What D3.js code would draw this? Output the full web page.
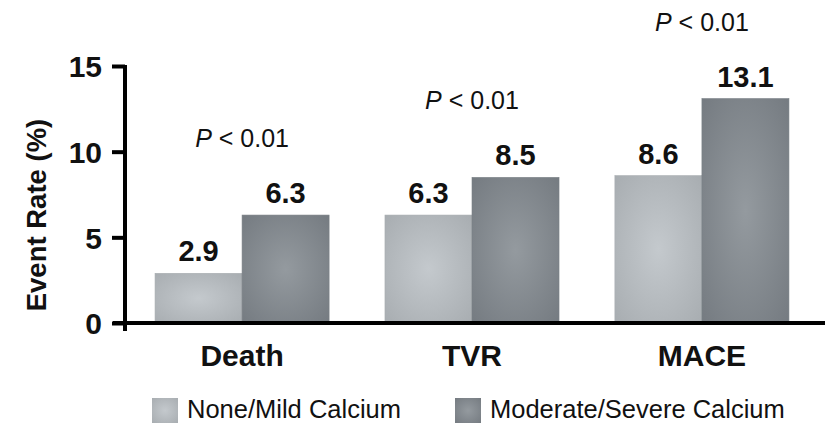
<!DOCTYPE html>
<html><head><meta charset="utf-8">
<script src="https://cdn.jsdelivr.net/npm/d3@7"></script>
<style>body{margin:0;background:#fff;}svg{display:block;}</style>
</head><body>
<svg id="c" width="829" height="423"></svg>
<script>
const categories = ["Death", "TVR", "MACE"];
const series = ["None/Mild Calcium", "Moderate/Severe Calcium"];
const noneMild = [2.9, 6.3, 8.6];
const modSevere = [6.3, 8.5, 13.1];
const pLabels = ["< 0.01", "< 0.01", "< 0.01"];
const yTicks = [0, 5, 10, 15];

const FONT = "Liberation Sans, Arial, Helvetica, sans-serif";
const svg = d3.select("#c");
const defs = svg.append("defs");
const colors = [["#c4c9cd", "#a8adb1"], ["#949a9f", "#757b81"]];
colors.forEach((c, i) => {
  const g = defs.append("radialGradient").attr("id", "g" + i).attr("cx", "50%").attr("cy", "50%").attr("r", "70%");
  g.append("stop").attr("offset", "0%").attr("stop-color", c[0]);
  g.append("stop").attr("offset", "100%").attr("stop-color", c[1]);
});

const x0 = 127, x1 = 817;
const y = d3.scaleLinear().domain([0, 15]).range([323, 66]);
const x = d3.scaleBand().domain(categories).range([x0, x1]).paddingInner(0.243).paddingOuter(0.122);
const xs = d3.scaleBand().domain(series).range([0, x.bandwidth()]);

const data = categories.map((c, i) => ({cat: c, vals: [noneMild[i], modSevere[i]], p: pLabels[i]}));

const grp = svg.append("g").selectAll("g").data(data).join("g")
  .attr("transform", d => `translate(${x(d.cat)},0)`);

grp.selectAll("rect").data(d => d.vals.map((v, j) => ({v, j}))).join("rect")
  .attr("x", d => xs(series[d.j]))
  .attr("width", xs.bandwidth())
  .attr("y", d => y(d.v))
  .attr("height", d => y(0) - y(d.v))
  .attr("fill", d => `url(#g${d.j})`)
  .attr("stroke", d => d.j ? "#7a8086" : "#a7acb0")
  .attr("stroke-width", 0.6);

grp.selectAll("text.val").data(d => d.vals.map((v, j) => ({v, j}))).join("text")
  .attr("class", "val")
  .attr("x", d => xs(series[d.j]) + xs.bandwidth() / 2)
  .attr("y", d => y(d.v) - 12)
  .attr("text-anchor", "middle")
  .attr("font-family", FONT)
  .attr("font-weight", "bold").attr("font-size", 29).attr("fill", "#111")
  .text(d => d.v.toFixed(1));

grp.append("text")
  .attr("x", x.bandwidth() / 2)
  .attr("y", d => y(d3.max(d.vals)) - 68)
  .attr("text-anchor", "middle")
  .attr("font-family", FONT)
  .attr("font-size", 25).attr("fill", "#111")
  .call(t => {
    t.append("tspan").attr("font-style", "italic").text("P");
    t.append("tspan").text(d => " " + d.p);
  });

// y axis
const yAxis = d3.axisLeft(y).tickValues(yTicks).tickSize(13).tickPadding(10).tickFormat(d3.format("d"));
const ya = svg.append("g").attr("transform", `translate(${x0 - 2},0)`).call(yAxis);
ya.select(".domain").attr("stroke", "#000").attr("stroke-width", 4).attr("d", `M0,${y(15) - 1}V${y(0) + 8}`);
ya.selectAll(".tick line").attr("stroke", "#000").attr("stroke-width", 4);
ya.selectAll(".tick text").attr("font-family", FONT)
  .attr("font-weight", "bold").attr("font-size", 30).attr("fill", "#111").attr("dy", "0.36em");

// x axis baseline
const xAxis = d3.axisBottom(x).tickSize(0).tickPadding(22);
const xa = svg.append("g").attr("transform", `translate(0,${y(0)})`).call(xAxis);
xa.select(".domain").attr("stroke", "#000").attr("stroke-width", 4).attr("d", `M${x0 - 14},0H${x1 + 8}`);
xa.selectAll(".tick text").attr("font-family", FONT)
  .attr("font-weight", "bold").attr("font-size", 30).attr("fill", "#111").attr("dy", "0.71em");

// y title
svg.append("text")
  .attr("transform", `translate(46,215) rotate(-90)`)
  .attr("text-anchor", "middle")
  .attr("font-family", FONT)
  .attr("font-weight", "bold").attr("font-size", 27.5).attr("fill", "#111")
  .text("Event Rate (%)");

// legend
const legX = [152, 455];
const leg = svg.append("g").selectAll("g").data(series).join("g")
  .attr("transform", (d, i) => `translate(${legX[i]},398)`);
leg.append("rect").attr("width", 26).attr("height", 25).attr("fill", (d, i) => `url(#g${i})`);
leg.append("text").attr("x", 35).attr("y", 20)
  .attr("font-family", FONT)
  .attr("font-size", 25.5).attr("fill", "#111")
  .text(d => d);
</script>
</body></html>
